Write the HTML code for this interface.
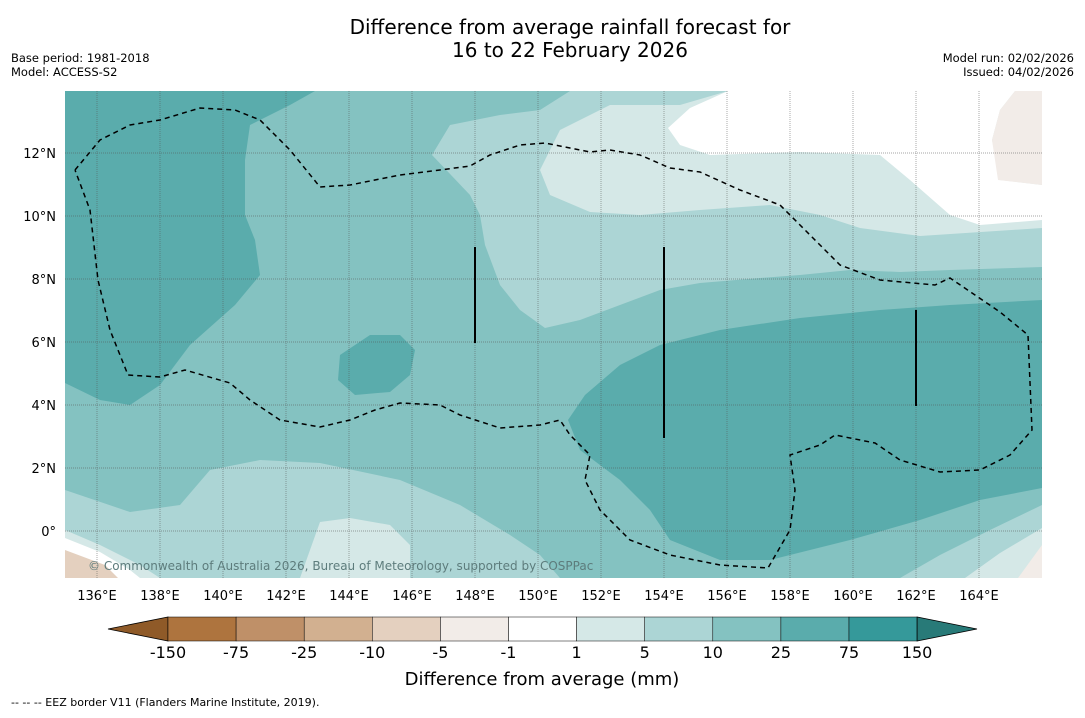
<!DOCTYPE html>
<html><head><meta charset="utf-8"><style>
body{margin:0;background:#fff;font-family:"Liberation Sans","DejaVu Sans",sans-serif;}
svg text{font-family:"DejaVu Sans","Liberation Sans",sans-serif;}
</style></head><body>
<svg id="chart" width="1085" height="713" viewBox="0 0 1085 713" xmlns="http://www.w3.org/2000/svg">
<rect width="1085" height="713" fill="#fff"/>
<text x="570" y="34" font-size="20" text-anchor="middle">Difference from average rainfall forecast for</text>
<text x="570" y="57" font-size="20" text-anchor="middle">16 to 22 February 2026</text>
<text x="11" y="62" font-size="11.5">Base period: 1981-2018</text>
<text x="11" y="76" font-size="11.5">Model: ACCESS-S2</text>
<text x="1074" y="62" font-size="11.5" text-anchor="end">Model run: 02/02/2026</text>
<text x="1074" y="76" font-size="11.5" text-anchor="end">Issued: 04/02/2026</text>
<defs><clipPath id="mc"><rect x="65" y="91" width="977" height="487"/></clipPath></defs>
<g id="map" clip-path="url(#mc)">
<rect x="65" y="91" width="977" height="487" fill="#84c2c1"/>
<polygon fill="#5aacac" points="65,91 315,91 290,105 250,125 245,160 245,215 255,240 260,275 235,305 190,345 160,385 130,405 100,400 65,383"/>
<polygon fill="#5aacac" points="340,355 370,335 400,335 415,350 410,375 390,392 355,395 338,380"/>
<polygon fill="#5aacac" points="1042,300 950,305 880,310 800,318 720,330 660,345 620,365 585,395 568,420 580,450 620,480 650,510 670,540 720,560 770,560 850,540 920,520 980,500 1042,488"/>
<polygon fill="#acd5d5" points="570,91 540,110 500,115 450,125 432,155 470,195 480,215 485,245 500,285 520,310 545,328 580,320 620,305 660,290 700,283 760,278 800,275 850,270 900,272 950,270 1042,267 1042,91"/>
<polygon fill="#d5e8e7" points="728,91 680,105 610,105 560,130 540,170 550,195 590,212 640,215 700,210 770,205 820,215 860,228 920,236 1042,228 1042,91"/>
<polygon fill="#ffffff" points="728,91 690,108 668,128 680,145 710,155 800,152 880,155 910,180 950,215 980,225 1042,220 1042,185 1000,180 992,140 1000,110 1015,91"/>
<polygon fill="#f2ece8" points="1015,91 1000,110 992,140 998,180 1042,185 1042,91"/>
<polygon fill="#acd5d5" points="65,490 130,512 180,505 210,470 260,460 320,463 400,480 460,505 510,535 540,555 560,578 65,578"/>
<polygon fill="#d5e8e7" points="65,530 100,545 140,565 160,578 65,578"/>
<polygon fill="#d5e8e7" points="300,578 320,522 350,518 390,525 410,545 410,578"/>
<polygon fill="#ffffff" points="65,538 100,552 130,570 140,578 65,578"/>
<polygon fill="#e4d0bf" points="65,550 105,565 118,578 65,578"/>
<polygon fill="#acd5d5" points="1042,505 990,530 940,555 900,578 1042,578"/>
<polygon fill="#d5e8e7" points="1042,528 1000,553 965,578 1042,578"/>
<polygon fill="#f2ece8" points="1042,545 1018,578 1042,578"/>
<g id="grid" stroke="#555" stroke-width="0.7" stroke-dasharray="1,1" opacity="0.7"></g>
<polyline fill="none" stroke="#000" stroke-width="1.5" stroke-dasharray="5,4" points="75,170 100,140 130,125 160,120 200,108 235,110 260,120 290,150 320,187 350,185 400,175 440,170 470,166 490,155 520,145 545,143 570,148 590,152 610,150 640,155 670,168 700,172 740,190 780,205 800,225 840,265 880,280 935,285 950,278 1000,312 1028,335 1032,430 1010,455 980,470 940,472 900,460 875,443 835,435 820,445 790,455 795,490 790,530 768,568 720,565 670,555 630,540 600,510 585,480 590,455 570,435 560,420 540,425 500,428 460,415 440,405 400,403 375,410 350,420 320,427 280,420 250,400 230,383 185,370 160,377 128,375 110,330 98,280 90,210 75,170"/>
<line x1="475" y1="247" x2="475" y2="343" stroke="#000" stroke-width="2"/>
<line x1="664" y1="247" x2="664" y2="438" stroke="#000" stroke-width="2"/>
<line x1="916" y1="310" x2="916" y2="406" stroke="#000" stroke-width="2"/>
<text x="88" y="570" font-size="12" fill="#5d7c7c">© Commonwealth of Australia 2026, Bureau of Meteorology, supported by COSPPac</text>
</g>
<g id="axes"></g>
<g id="cbar"></g>
<text x="542" y="685" font-size="18" text-anchor="middle">Difference from average (mm)</text>
<text x="11" y="706" font-size="11">--  --  -- EEZ border V11 (Flanders Marine Institute, 2019).</text>
</svg>
<script>
const lonTicks=[136,138,140,142,144,146,148,150,152,154,156,158,160,162,164];
const latTicks=[0,2,4,6,8,10,12];
const levelLabels=["-150","-75","-25","-10","-5","-1","1","5","10","25","75","150"];
const binColors=["#ae743e","#bf9068","#d2b090","#e4d0bf","#f2ece8","#ffffff","#d5e8e7","#acd5d5","#84c2c1","#5aacac","#35999a"];
const NS="http://www.w3.org/2000/svg";
const xLon=l=>97+(l-136)*31.5, yLat=l=>531-l*31.5;
function mk(t,a,p){const e=document.createElementNS(NS,t);for(const k in a)e.setAttribute(k,a[k]);p.appendChild(e);return e;}
const grid=document.getElementById('grid'),axes=document.getElementById('axes');
lonTicks.forEach(l=>{
 const g=mk('line',{x1:xLon(l),x2:xLon(l),y1:91,y2:578},grid);
 
 
 const t=mk('text',{x:xLon(l),y:600,'font-size':13,'text-anchor':'middle'},axes);
 
 
 t.textContent=l+'°E';
});
latTicks.forEach(l=>{
 const g=mk('line',{x1:65,x2:1042,y1:yLat(l),y2:yLat(l)},grid);
 
 
 const t=mk('text',{x:56,y:yLat(l)+5,'font-size':13,'text-anchor':'end'},axes);
 
 
 t.textContent=l===0?'0°':l+'°N';
});
const cb=document.getElementById('cbar');
const x0=168,w=68.1,y0=617,h=24;
const lt=mk('polygon',{points:`${x0},${y0} ${x0},${y0+h} 108,${y0+h/2}`,fill:'#8f5a28',stroke:'#000','stroke-width':0.8},cb);


binColors.forEach((c,i)=>{
 let fill=c;
 const r=mk('rect',{x:x0+i*w,y:y0,width:w,height:h,fill:c,stroke:'#000','stroke-width':0.5},cb);
 
 
});
const xe=x0+binColors.length*w;
const rt=mk('polygon',{points:`${xe},${y0} ${xe},${y0+h} 977,${y0+h/2}`,fill:'#287a78',stroke:'#000','stroke-width':0.8},cb);


levelLabels.forEach((s,i)=>{
 const t=mk('text',{x:x0+i*w,y:658,'font-size':16,'text-anchor':'middle'},cb);
 
 
 t.textContent=s;
});
</script>
</body></html>
